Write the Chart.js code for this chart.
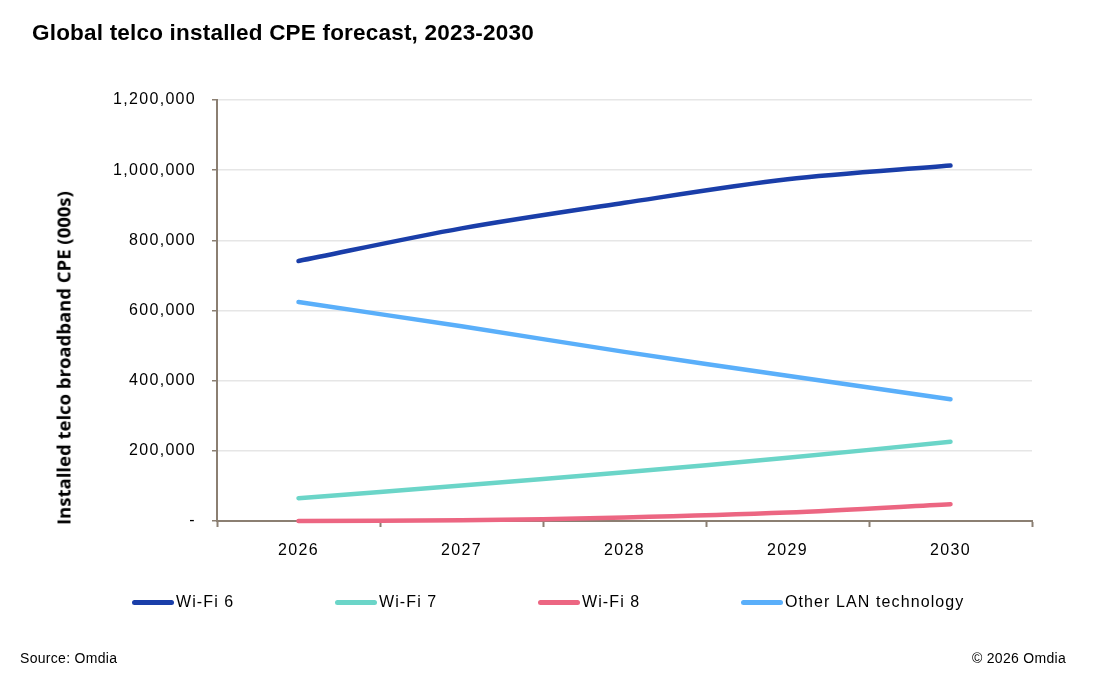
<!DOCTYPE html>
<html>
<head>
<meta charset="utf-8">
<script src="https://cdn.jsdelivr.net/npm/chart.js@4/dist/chart.umd.min.js"></script>
<style>
    body { margin: 0; background: #fff; font-family: "Liberation Sans", Arial, sans-serif; }
    #wrap { position: relative; width: 1096px; height: 694px; overflow: hidden; }
    #chart { position: absolute; left: 0; top: 0; }
    #title { position: absolute; left: 32px; top: 20px; font: bold 22.5px "Liberation Sans", Arial, sans-serif; color: #000; letter-spacing: 0.2px; }
    #yTitle { position: absolute; left: 63px; top: 358px; transform: translate(-50%, -50%) rotate(-90deg);
        white-space: nowrap; font: bold 18.5px "Open Sans", sans-serif; color: #000; }
    #legend { position: absolute; left: 132px; top: 593px; display: flex; }
    .item { width: 203px; flex-shrink: 0; display: flex; align-items: center; font-size: 16px; letter-spacing: 1.1px; color: #000; white-space: nowrap; }
    .swatch { width: 42px; height: 5px; flex-shrink: 0; border-radius: 3px; margin-right: 2px; }
    .note { position: absolute; top: 650px; font-size: 14px; letter-spacing: 0.3px; color: #000; }
</style>
</head>
<body>
<div id="wrap">
    <canvas id="chart" width="1096" height="694"></canvas>
    <div id="title">Global telco installed CPE forecast, 2023-2030</div>
    <div id="yTitle">Installed telco broadband CPE (000s)</div>
    <div id="legend"></div>
    <div class="note" style="left:20px">Source: Omdia</div>
    <div class="note" style="right:30px">© 2026 Omdia</div>
</div>
<script>
// data (thousands of units)
let years = ["2026", "2027", "2028", "2029", "2030"];
let wifi6 = [741000, 834000, 907000, 974000, 1013000];
let wifi7 = [65000, 101000, 139000, 180000, 226000];
let wifi8 = [0, 2000, 10000, 24000, 48000];
let otherLan = [624000, 555000, 482000, 414000, 347000];

let seriesNames = ["Wi-Fi 6", "Wi-Fi 7", "Wi-Fi 8", "Other LAN technology"];
let seriesColors = ["#1a3ea9", "#6bd5c8", "#ec6682", "#5aaffa"];
let seriesData = [wifi6, wifi7, wifi8, otherLan];

let axisColor = "#8b7f72";

// html legend, same order as the reference
let legend = document.getElementById("legend");
seriesNames.forEach((name, i) => {
    let item = document.createElement("div");
    item.className = "item";
    item.innerHTML = `<span class="swatch" style="background:${seriesColors[i]}"></span>${name}`;
    legend.appendChild(item);
});

// wider tracking like the original export
let spacing = {
    id: "spacing",
    beforeDraw(chart) {
        chart.ctx.letterSpacing = "1.3px";
    }
};

new Chart(document.getElementById("chart").getContext("2d"), {
    type: "line",
    data: {
        labels: years,
        datasets: seriesNames.map((name, i) => ({
            label: name,
            data: seriesData[i],
            borderColor: seriesColors[i],
            backgroundColor: seriesColors[i],
            borderWidth: 4.5,
            borderCapStyle: "round",
            pointRadius: 0,
            tension: 0.3,
            fill: false,
            clip: 10
        }))
    },
    options: {
        responsive: false,
        animation: false,
        layout: { padding: { left: 0, top: 100, right: 64, bottom: 123 } },
        plugins: { legend: { display: false }, tooltip: { enabled: false } },
        scales: {
            x: {
                offset: true,
                grid: { offset: true, drawOnChartArea: false, tickLength: 6, tickColor: axisColor, tickWidth: 2 },
                border: { color: axisColor, width: 2 },
                ticks: { color: "#000", padding: 14, font: { family: "Liberation Sans", size: 16 } },
                afterFit(scale) { scale.height = 50; }
            },
            y: {
                min: 0,
                max: 1200000,
                grid: { color: "#e6e6e6", lineWidth: 1.5, tickLength: 5, tickColor: axisColor },
                border: { color: axisColor, width: 2 },
                ticks: {
                    stepSize: 200000,
                    color: "#000",
                    padding: 16,
                    font: { family: "Liberation Sans", size: 16 },
                    callback: v => v === 0 ? "-" : v.toLocaleString("en-US")
                },
                afterFit(scale) { scale.width = 217; }
            }
        }
    },
    plugins: [spacing]
});
</script>
</body>
</html>
